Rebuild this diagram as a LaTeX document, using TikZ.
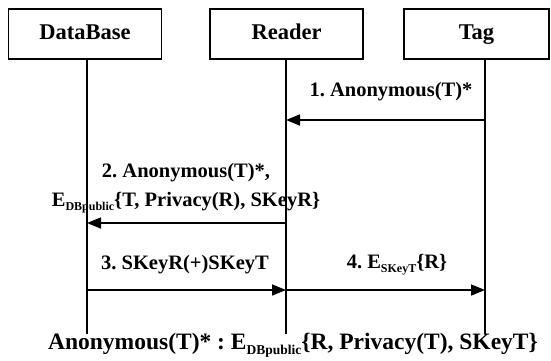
\documentclass[tikz,border=0pt]{standalone}
\usepackage{fontspec}
\setmainfont{Liberation Serif}
\usetikzlibrary{arrows.meta}
\newcommand\subtxt[2]{\raisebox{-0.45ex}{\fontsize{#1}{#1}\selectfont #2}}
\begin{document}
\frenchspacing
\begin{tikzpicture}[x=1pt,y=-1pt,
  actor/.style={draw,line width=1.3pt,minimum width=153pt,minimum height=50pt,
    inner sep=0pt,text height=16pt,text depth=5pt,
    font=\fontsize{22.5}{26}\selectfont\bfseries},
  life/.style={line width=1.2pt},
  msg/.style={line width=1.6pt,-{Triangle[length=14pt,width=11pt]}},
  lbl/.style={inner sep=0pt,align=center,font=\fontsize{20.5}{29}\selectfont\bfseries}]
\useasboundingbox (0,0) rectangle (551,360);
% participants
\node[actor] (db) at (85,34) {DataBase};
\node[actor] (rd) at (286.5,34) {Reader};
\node[actor,minimum width=145pt] (tg) at (476.5,34) {Tag};
% lifelines
\coordinate (dbtop) at (87,59);
\coordinate (rdtop) at (286,59);
\coordinate (tgtop) at (485,59);
\coordinate (dbend) at (87,334);
\coordinate (rdend) at (286,334);
\coordinate (tgend) at (485,334);
\draw[life] (dbtop) -- (dbend);
\draw[life] (rdtop) -- (rdend);
\draw[life] (tgtop) -- (tgend);
% message anchors on the lifelines
\coordinate (t1) at (485,120);
\coordinate (r1) at (286,120);
\coordinate (r2) at (286,223);
\coordinate (d2) at (87,223);
\coordinate (d3) at (87,290);
\coordinate (r3) at (286,290);
\coordinate (t4) at (485,290);
% messages
\draw[msg] (t1) -- (r1);
\draw[msg] (r2) -- (d2);
\draw[msg] (d3) -- (r3);
\draw[msg] (r3) -- (t4);
\node[lbl] (m1) at (391,92) {1. Anonymous(T)*};
\node[lbl] (m2) at (186,188) {2. Anonymous(T)*,\\E\subtxt{12}{DBpublic}\{T, Privacy(R), SKeyR\}};
\node[lbl] (m3) at (185,265) {3. SKeyR(+)SKeyT};
\node[lbl] (m4) at (397,265) {4. E\subtxt{12}{SKeyT}\{R\}};
\node[lbl,font=\fontsize{23.5}{26}\selectfont\bfseries] (note) at (293,345)
  {Anonymous(T)* : E\subtxt{13.5}{DBpublic}\{R, Privacy(T), SKeyT\}};
\end{tikzpicture}
\end{document}
